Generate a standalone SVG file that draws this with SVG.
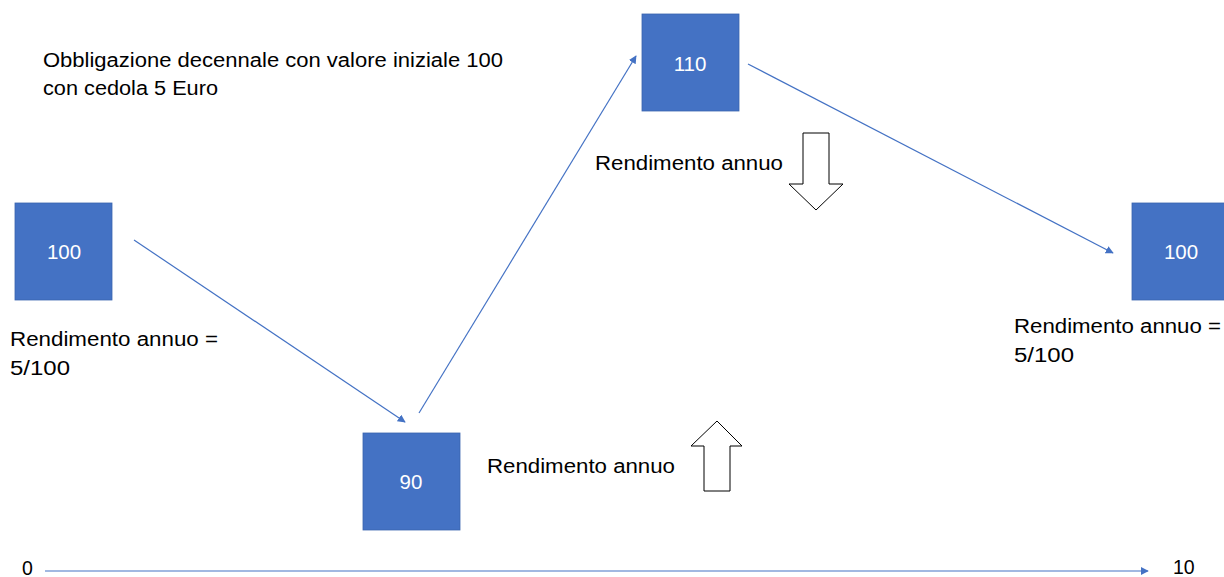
<svg xmlns="http://www.w3.org/2000/svg" width="1224" height="577" viewBox="0 0 1224 577">
<style>
.box{fill:#4472C4;stroke:#3A64AE;stroke-width:0.8}
.bl{font-family:"Liberation Sans",Arial,sans-serif;font-size:20.5px;fill:#fff;text-anchor:middle}
.t{font-family:"Liberation Sans",Arial,sans-serif;font-size:19.5px;fill:#000}
.c{stroke:#4472C4;stroke-width:1.2;fill:none;marker-end:url(#ah)}
.blk{fill:#fff;stroke:#000;stroke-width:1}
</style>
<defs>
<marker id="ah" viewBox="0 0 10 10" refX="9" refY="5" markerWidth="8" markerHeight="8" markerUnits="userSpaceOnUse" orient="auto"><path d="M0,0L10,5L0,10z" fill="#4472C4"/></marker>
</defs>
<rect width="1224" height="577" fill="#fff"/>
<g id="connectors">
<line class="c" x1="134" y1="240" x2="405" y2="422"/>
<line class="c" x1="419" y1="413" x2="636" y2="56"/>
<line class="c" x1="748" y1="64" x2="1113" y2="253"/>
<line class="c" x1="45" y1="571" x2="1148" y2="571"/>
</g>
<g id="node-100a"><rect class="box" x="15" y="203" width="97" height="97"/><text class="bl" x="64" y="259">100</text></g>
<g id="node-90"><rect class="box" x="363" y="433" width="97" height="97"/><text class="bl" x="411" y="489">90</text></g>
<g id="node-110"><rect class="box" x="642" y="14" width="97" height="97"/><text class="bl" x="690" y="71">110</text></g>
<g id="node-100b"><rect class="box" x="1132" y="203" width="97" height="97"/><text class="bl" x="1181" y="259">100</text></g>
<g id="arrow-up"><path class="blk" d="M717,421L742,446H730V491H704V446H691Z"/></g>
<g id="arrow-down"><path class="blk" d="M803,133H829V184H843L816,210L789,184H803Z"/></g>
<g id="texts">
<text class="t" x="43" y="67" textLength="460" lengthAdjust="spacingAndGlyphs">Obbligazione decennale con valore iniziale 100</text>
<text class="t" x="43" y="95" textLength="175" lengthAdjust="spacingAndGlyphs">con cedola 5 Euro</text>
<text class="t" x="10" y="346" textLength="208" lengthAdjust="spacingAndGlyphs">Rendimento annuo =</text>
<text class="t" x="10" y="375" textLength="60" lengthAdjust="spacingAndGlyphs">5/100</text>
<text class="t" x="487" y="473" textLength="188" lengthAdjust="spacingAndGlyphs">Rendimento annuo</text>
<text class="t" x="595" y="170" textLength="188" lengthAdjust="spacingAndGlyphs">Rendimento annuo</text>
<text class="t" x="1014" y="333" textLength="207" lengthAdjust="spacingAndGlyphs">Rendimento annuo =</text>
<text class="t" x="1014" y="362" textLength="60" lengthAdjust="spacingAndGlyphs">5/100</text>
<text class="t" x="22" y="575">0</text>
<text class="t" x="1173" y="574">10</text>
</g>
</svg>
